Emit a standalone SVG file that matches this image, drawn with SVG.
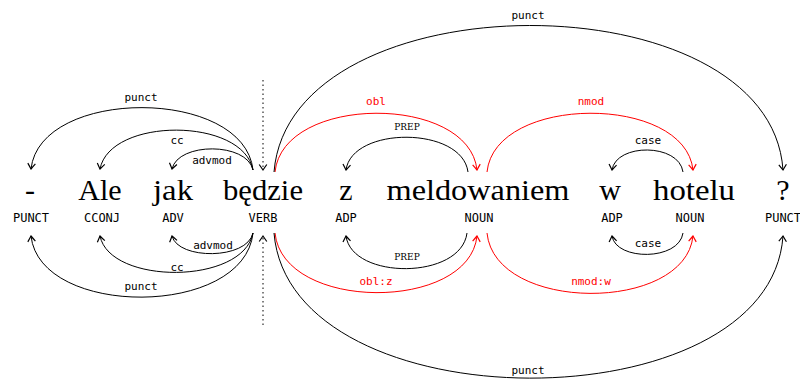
<svg xmlns="http://www.w3.org/2000/svg" width="800" height="380" viewBox="0 0 800 380">
<style>
.w{font-family:"Liberation Serif","Times New Roman",serif;font-size:30px;fill:#000;text-anchor:middle}
.t{font-family:"DejaVu Sans Mono","Liberation Mono",monospace;font-size:12px;fill:#000;text-anchor:middle}
.l{font-family:"DejaVu Sans Mono","Liberation Mono",monospace;font-size:11px;fill:#000;text-anchor:middle}
.lr{fill:#f00}
.p{font-family:"DejaVu Serif","Liberation Serif",serif;font-size:9px;fill:#000;text-anchor:middle}
.a{fill:none;stroke:#000;stroke-width:1;marker-end:url(#ah)}
.r{fill:none;stroke:#f00;stroke-width:1;marker-end:url(#ahr)}
.d{fill:none;stroke:#000;stroke-width:1;stroke-dasharray:1.5 3;marker-end:url(#ah)}
</style>
<defs>
<marker id="ah" markerUnits="userSpaceOnUse" markerWidth="14" markerHeight="14" viewBox="-7 -7 14 14" refX="0" refY="0" orient="auto" overflow="visible">
<path d="M-5.5,-3.8 Q-1.8,-1.2 0,0 Q-1.8,1.2 -5.5,3.8" fill="none" stroke="#000" stroke-width="1.2"/>
</marker>
<marker id="ahr" markerUnits="userSpaceOnUse" markerWidth="14" markerHeight="14" viewBox="-7 -7 14 14" refX="0" refY="0" orient="auto" overflow="visible">
<path d="M-5.5,-3.8 Q-1.8,-1.2 0,0 Q-1.8,1.2 -5.5,3.8" fill="none" stroke="#f00" stroke-width="1.2"/>
</marker>
</defs>
<g id="n1"><text class="w" x="30" y="200">-</text><text class="t" x="31" y="222">PUNCT</text></g>
<g id="n2"><text class="w" x="100" y="200">Ale</text><text class="t" x="102" y="222">CCONJ</text></g>
<g id="n3"><text class="w" x="173" y="200" textLength="40" lengthAdjust="spacingAndGlyphs">jak</text><text class="t" x="173" y="222">ADV</text></g>
<g id="n4"><text class="w" x="263" y="200" textLength="80" lengthAdjust="spacingAndGlyphs">będzie</text><text class="t" x="263" y="222">VERB</text></g>
<g id="n5"><text class="w" x="346" y="200">z</text><text class="t" x="346" y="222">ADP</text></g>
<g id="n6"><text class="w" x="478" y="200" textLength="183" lengthAdjust="spacingAndGlyphs">meldowaniem</text><text class="t" x="479" y="222">NOUN</text></g>
<g id="n7"><text class="w" x="610" y="200">w</text><text class="t" x="612" y="222">ADP</text></g>
<g id="n8"><text class="w" x="694" y="200" textLength="82" lengthAdjust="spacingAndGlyphs">hotelu</text><text class="t" x="690" y="222">NOUN</text></g>
<g id="n9"><text class="w" x="783" y="200">?</text><text class="t" x="783" y="222">PUNCT</text></g>
<g id="connectors">
<path class="d" d="M263,80 L263,170"/>
<path class="d" d="M263,325 L263,236"/>
<path class="a" d="M253,170 C244,87 40,87 31,169"/>
<path class="a" d="M253,170 C243,117 110,117 100,169"/>
<path class="a" d="M253,170 C247,142 178,142 172,169"/>
<path class="a" d="M253,233 C244,318 40,318 31,236"/>
<path class="a" d="M253,233 C243,285 110,285 100,236"/>
<path class="a" d="M253,233 C247,260 178,260 172,236"/>
<path class="r" d="M275,172 C283,94 469,94 477,170"/>
<path class="a" d="M468,172 C462,126 352,126 346,170"/>
<path class="a" d="M274,172 C290,-23 770,-23 783,170"/>
<path class="r" d="M487,172 C495,94 685,94 693,170"/>
<path class="a" d="M683,172 C679,143 616,143 612,170"/>
<path class="a" d="M467,233 C461,280 352,280 346,236"/>
<path class="r" d="M275,233 C283,312 469,312 477,236"/>
<path class="a" d="M274,233 C290,426 770,426 783,236"/>
<path class="r" d="M487,233 C495,313 685,313 693,236"/>
<path class="a" d="M683,233 C679,261 616,261 612,236"/>
<text class="l" x="141" y="101">punct</text>
<text class="l" x="177" y="144">cc</text>
<text class="l" x="212" y="164">advmod</text>
<text class="l" x="213" y="249">advmod</text>
<text class="l" x="177" y="271">cc</text>
<text class="l" x="141" y="290">punct</text>
<text class="l lr" x="376" y="105">obl</text>
<text class="p" x="407" y="130">PREP</text>
<text class="l" x="528" y="19">punct</text>
<text class="l lr" x="591" y="105">nmod</text>
<text class="l" x="648" y="144">case</text>
<text class="p" x="407" y="260">PREP</text>
<text class="l lr" x="376" y="285">obl:z</text>
<text class="l" x="528" y="374">punct</text>
<text class="l lr" x="591" y="285">nmod:w</text>
<text class="l" x="648" y="247">case</text>
</g>
</svg>
